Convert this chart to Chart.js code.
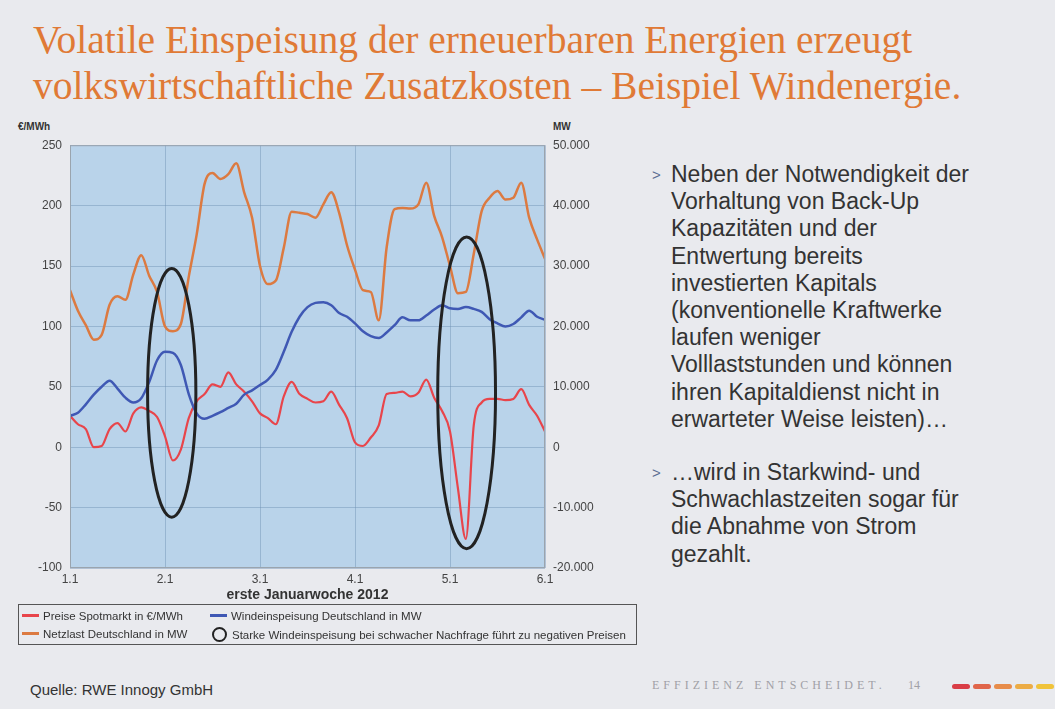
<!DOCTYPE html>
<html lang="de">
<head>
<meta charset="utf-8">
<title>Volatile Einspeisung – Beispiel Windenergie</title>
<script src="https://cdn.jsdelivr.net/npm/chart.js@4.4.1/dist/chart.umd.min.js"></script>
<style>
    body {
        margin: 0;
        width: 1055px;
        height: 709px;
        position: relative;
        overflow: hidden;
        background: #e9eaee;
        font-family: "Liberation Sans", Arial, sans-serif;
        color: #333;
    }
    .title {
        position: absolute;
        left: 33px;
        top: 17px;
        color: #e07a36;
        font-family: "Liberation Serif", serif;
        font-size: 39.5px;
        line-height: 46px;
        white-space: nowrap;
    }
    .unit {
        position: absolute;
        top: 121px;
        font-size: 10px;
        font-weight: bold;
        color: #333;
    }
    #chartBox {
        position: absolute;
        left: 0;
        top: 130px;
        width: 610px;
        height: 475px;
    }
    .legend {
        position: absolute;
        left: 18px;
        top: 604px;
        width: 617px;
        height: 39px;
        border: 1px solid #555;
        font-size: 11.5px;
        color: #333;
    }
    .legend .item {
        position: absolute;
        white-space: nowrap;
        line-height: 13px;
    }
    .legend .swatch {
        display: inline-block;
        width: 17px;
        height: 3px;
        vertical-align: middle;
        margin-right: 4px;
        position: relative;
        top: -1px;
    }
    .legend .ring {
        display: inline-block;
        width: 11px;
        height: 11px;
        border: 2.5px solid #222;
        border-radius: 50%;
        vertical-align: middle;
        margin-right: 5px;
        position: relative;
        top: -1px;
    }
    .bullets {
        position: absolute;
        left: 652px;
        top: 161px;
        font-size: 23px;
        line-height: 27.2px;
        color: #333;
    }
    .bullets p {
        margin: 0 0 26px 0;
        padding-left: 19px;
        position: relative;
        white-space: nowrap;
    }
    .bullets p::before {
        content: ">";
        position: absolute;
        left: 0;
        top: 0;
        font-size: 15px;
        color: #5b6d92;
    }
    .source {
        position: absolute;
        left: 30px;
        top: 681px;
        font-size: 15px;
        color: #333;
    }
    .claim {
        position: absolute;
        left: 652px;
        top: 678px;
        font-family: "Liberation Serif", serif;
        font-size: 12px;
        letter-spacing: 4px;
        color: #a0a0a6;
        white-space: nowrap;
    }
    .page {
        position: absolute;
        left: 908px;
        top: 678px;
        font-family: "Liberation Serif", serif;
        font-size: 12px;
        color: #a0a0a6;
    }
    .dashes {
        position: absolute;
        left: 952px;
        top: 684px;
        display: flex;
        gap: 3px;
    }
    .dashes span {
        width: 18px;
        height: 5px;
        border-radius: 3px;
    }
</style>
</head>
<body>

<div class="title">Volatile Einspeisung der erneuerbaren Energien erzeugt<br>volkswirtschaftliche Zusatzkosten – Beispiel Windenergie.</div>

<div class="unit" style="left:18px;">€/MWh</div>
<div class="unit" style="left:553px;">MW</div>

<div id="chartBox"><canvas id="windChart" width="610" height="475"></canvas></div>

<div class="legend">
    <div class="item" style="left:3px; top:5px;"><span class="swatch" style="background:#e8454b"></span>Preise Spotmarkt in €/MWh</div>
    <div class="item" style="left:191px; top:5px;"><span class="swatch" style="background:#3f58b4"></span>Windeinspeisung Deutschland in MW</div>
    <div class="item" style="left:3px; top:23px;"><span class="swatch" style="background:#dc7a41"></span>Netzlast Deutschland in MW</div>
    <div class="item" style="left:193px; top:23px;"><span class="ring"></span>Starke Windeinspeisung bei schwacher Nachfrage führt zu negativen Preisen</div>
</div>

<div class="bullets">
    <p>Neben der Notwendigkeit der<br>Vorhaltung von Back-Up<br>Kapazitäten und der<br>Entwertung bereits<br>investierten Kapitals<br>(konventionelle Kraftwerke<br>laufen weniger<br>Volllaststunden und können<br>ihren Kapitaldienst nicht in<br>erwarteter Weise leisten)…</p>
    <p>…wird in Starkwind- und<br>Schwachlastzeiten sogar für<br>die Abnahme von Strom<br>gezahlt.</p>
</div>

<div class="source">Quelle: RWE Innogy GmbH</div>
<div class="claim">EFFIZIENZ ENTSCHEIDET.</div>
<div class="page">14</div>
<div class="dashes">
    <span style="background:#d93d46"></span><span style="background:#e0654a"></span><span style="background:#e78c4a"></span><span style="background:#ecac45"></span><span style="background:#f0c33a"></span>
</div>

<script>
// First week of January 2012, sampled every 2 hours
const dayLabels = ['1.1', '2.1', '3.1', '4.1', '5.1', '6.1'];

const hours = [
    0, 2, 4, 6, 8, 10, 12, 14, 16, 18, 20, 22, 24,
    26, 28, 30, 32, 34, 36, 38, 40, 42, 44, 46, 48,
    50, 52, 54, 56, 58, 60, 62, 64, 66, 68, 70, 72,
    74, 76, 78, 80, 82, 84, 86, 88, 90, 92, 94, 96,
    98, 100, 102, 104, 106, 108, 110, 112, 114, 116, 118, 120
];

// Preise Spotmarkt in €/MWh (left axis)
const spotPrice = [
    26, 19, 15, 0, 1, 15, 20, 13, 28, 33, 30, 25, 9,
    -11, -2, 24, 38, 44, 52, 50, 62, 52, 46, 38, 28,
    24, 19, 42, 54, 44, 40, 37, 38, 46, 35, 24, 4,
    1, 8, 18, 44, 45, 46, 42, 45, 56, 41, 30, 13,
    -34, -76, 18, 37, 40, 40, 39, 40, 48, 35, 26, 13
];

// Windeinspeisung Deutschland in MW (right axis)
const windFeedIn = [
    5200, 5700, 7100, 8700, 10000, 11000, 9700, 8200, 7400, 8100, 10800, 14400, 15800,
    15600, 13600, 8800, 5600, 4700, 5200, 5800, 6500, 7200, 8700, 9400, 10300,
    11200, 12800, 15800, 19100, 21600, 23200, 23900, 24000, 23500, 22200, 21600, 20500,
    19200, 18400, 18100, 19000, 20200, 21500, 21000, 21000, 21800, 22800, 23500, 23000,
    22900, 23200, 22900, 22400, 21200, 20500, 20000, 20400, 21500, 22600, 21600, 21100
];

// Netzlast Deutschland in MW (right axis)
const gridLoad = [
    26000, 22600, 20200, 17800, 18600, 23600, 25000, 24400, 28600, 31800, 28400, 25700, 20000,
    19200, 20400, 28200, 35200, 43600, 45400, 44400, 45200, 47000, 42200, 38000, 30000,
    27000, 27600, 33000, 39000, 38800, 38600, 38000, 40200, 42200, 38800, 33400, 29400,
    26000, 25700, 21000, 33100, 39400, 39600, 39500, 40200, 43800, 38300, 34800, 30000,
    25500, 25700, 32000, 39100, 41300, 42400, 41000, 41300, 43800, 38000, 34400, 31200
];

const priceTicks = { min: -100, max: 250, step: 50 };
const powerTicks = { min: -20000, max: 50000, step: 10000 };

// Highlighted periods (hour, price-axis value) for the black ellipses
const highlightHours = [25.7, 100.2];
const highlightPrices = [45, 45];

function germanThousands(value) {
    const sign = value < 0 ? '-' : '';
    return sign + String(Math.abs(value)).replace(/\B(?=(\d{3})+(?!\d))/g, '.');
}

function toPoints(values) {
    return values.map((v, i) => ({ x: hours[i], y: v }));
}

// Light blue plot area with a thin frame
const plotBackground = {
    id: 'plotBackground',
    beforeDraw(chart) {
        const { ctx, chartArea: a } = chart;
        ctx.save();
        ctx.fillStyle = '#b9d3ea';
        ctx.fillRect(a.left, a.top, a.right - a.left, a.bottom - a.top);
        ctx.restore();
    },
    afterDraw(chart) {
        const { ctx, chartArea: a } = chart;
        ctx.save();
        ctx.strokeStyle = '#9aa4ae';
        ctx.lineWidth = 1;
        ctx.strokeRect(a.left + 0.5, a.top + 0.5, a.right - a.left - 1, a.bottom - a.top - 1);
        ctx.restore();
    }
};

// Black ellipses around the negative-price periods
const highlightRings = {
    id: 'highlightRings',
    afterDatasetsDraw(chart) {
        const { ctx } = chart;
        const xs = chart.scales.x;
        const ys = chart.scales.y;
        const halfWidths = [6.1, 7.3];
        const halfHeights = [103, 129];
        ctx.save();
        ctx.strokeStyle = '#222';
        ctx.lineWidth = 3;
        highlightHours.forEach((h, i) => {
            const cx = xs.getPixelForValue(h);
            const cy = ys.getPixelForValue(highlightPrices[i]);
            const rx = Math.abs(xs.getPixelForValue(h + halfWidths[i]) - cx);
            const ry = Math.abs(ys.getPixelForValue(highlightPrices[i] + halfHeights[i]) - cy);
            ctx.beginPath();
            ctx.ellipse(cx, cy, rx, ry, 0, 0, Math.PI * 2);
            ctx.stroke();
        });
        ctx.restore();
    }
};

const tickFont = { family: '"Liberation Sans", Arial, sans-serif', size: 12 };
const gridColor = 'rgba(110, 145, 180, 0.45)';

new Chart(document.getElementById('windChart'), {
    type: 'line',
    data: {
        datasets: [
            {
                label: 'Netzlast Deutschland in MW',
                data: toPoints(gridLoad),
                yAxisID: 'y1',
                borderColor: '#dc7a41',
                borderWidth: 2.5
            },
            {
                label: 'Windeinspeisung Deutschland in MW',
                data: toPoints(windFeedIn),
                yAxisID: 'y1',
                borderColor: '#3f58b4',
                borderWidth: 2.5
            },
            {
                label: 'Preise Spotmarkt in €/MWh',
                data: toPoints(spotPrice),
                yAxisID: 'y',
                borderColor: '#e8454b',
                borderWidth: 2.2
            }
        ]
    },
    options: {
        responsive: false,
        animation: false,
        devicePixelRatio: 1,
        layout: { padding: { top: 13, left: 0, right: 0, bottom: 0 } },
        elements: {
            point: { radius: 0 },
            line: { cubicInterpolationMode: 'monotone', fill: false }
        },
        plugins: {
            legend: { display: false },
            tooltip: { enabled: false }
        },
        scales: {
            x: {
                type: 'linear',
                min: 0,
                max: 120,
                afterFit(scale) { scale.height = 37; },
                grid: { color: gridColor, drawTicks: false },
                border: { display: false },
                ticks: {
                    stepSize: 24,
                    autoSkip: false,
                    padding: 4,
                    color: '#444',
                    font: tickFont,
                    callback: value => dayLabels[value / 24]
                },
                title: {
                    display: true,
                    text: 'erste Januarwoche 2012',
                    color: '#333',
                    font: { family: '"Liberation Sans", Arial, sans-serif', size: 14, weight: 'bold' },
                    padding: { top: 0, bottom: 1 }
                }
            },
            y: {
                position: 'left',
                min: priceTicks.min,
                max: priceTicks.max,
                afterFit(scale) { scale.width = 70; },
                grid: { color: gridColor, drawTicks: false },
                border: { display: false },
                ticks: {
                    stepSize: priceTicks.step,
                    padding: 8,
                    color: '#444',
                    font: tickFont
                }
            },
            y1: {
                position: 'right',
                min: powerTicks.min,
                max: powerTicks.max,
                afterFit(scale) { scale.width = 65; },
                grid: { display: false, drawTicks: false },
                border: { display: false },
                ticks: {
                    stepSize: powerTicks.step,
                    padding: 8,
                    color: '#444',
                    font: tickFont,
                    callback: value => germanThousands(value)
                }
            }
        }
    },
    plugins: [plotBackground, highlightRings]
});
</script>
</body>
</html>
